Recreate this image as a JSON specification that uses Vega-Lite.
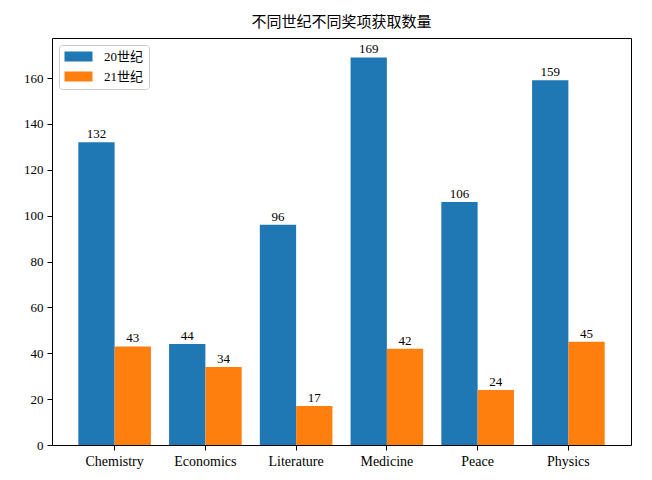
{
  "$schema": "https://vega.github.io/schema/vega-lite/v6.json",
  "width": 579,
  "height": 407,
  "autosize": {"type": "none"},
  "padding": {"left": 52, "top": 38, "right": 21, "bottom": 35},
  "background": "white",
  "config": {
    "font": "Liberation Serif, Noto Sans CJK SC",
    "view": {"stroke": "black", "strokeWidth": 1},
    "axis": {"grid": false, "domain": false, "tickColor": "black", "labelColor": "black", "labelFontSize": 13, "tickSize": 5, "labelPadding": 4, "labelFont": "Liberation Serif"}
  },
  "title": {"text": "不同世纪不同奖项获取数量", "fontSize": 15, "fontWeight": "normal", "offset": 8, "color": "black", "font": "Noto Sans CJK SC", "anchor": "middle"},
  "data": {
    "values": [
      {"award": "Chemistry", "century": "20世纪", "count": 132},
      {"award": "Chemistry", "century": "21世纪", "count": 43},
      {"award": "Economics", "century": "20世纪", "count": 44},
      {"award": "Economics", "century": "21世纪", "count": 34},
      {"award": "Literature", "century": "20世纪", "count": 96},
      {"award": "Literature", "century": "21世纪", "count": 17},
      {"award": "Medicine", "century": "20世纪", "count": 169},
      {"award": "Medicine", "century": "21世纪", "count": 42},
      {"award": "Peace", "century": "20世纪", "count": 106},
      {"award": "Peace", "century": "21世纪", "count": 24},
      {"award": "Physics", "century": "20世纪", "count": 159},
      {"award": "Physics", "century": "21世纪", "count": 45}
    ]
  },
  "encoding": {
    "x": {"field": "award", "type": "nominal", "sort": null, "scale": {"paddingInner": 0.2, "paddingOuter": 0.29}, "axis": {"title": null, "labelAngle": 0, "labelFontSize": 14}},
    "xOffset": {"field": "century", "type": "nominal", "sort": ["20世纪", "21世纪"], "scale": {"paddingInner": 0, "paddingOuter": 0}},
    "y": {"field": "count", "type": "quantitative", "scale": {"domain": [0, 177.45], "nice": false}, "axis": {"title": null, "values": [0, 20, 40, 60, 80, 100, 120, 140, 160]}}
  },
  "layer": [
    {
      "mark": {"type": "bar"},
      "encoding": {
        "color": {
          "field": "century", "type": "nominal", "sort": ["20世纪", "21世纪"],
          "scale": {"range": ["#1f77b4", "#ff7f0e"]},
          "legend": {
            "title": null, "orient": "top-left", "offset": 7,
            "fillColor": "white", "strokeColor": "#cccccc", "cornerRadius": 3, "padding": 5,
            "labelFontSize": 13, "labelColor": "black", "labelFont": "Liberation Serif, Noto Sans CJK SC",
            "symbolType": "M-2.8,-1L2.8,-1L2.8,1L-2.8,1Z", "symbolSize": 100, "symbolStrokeWidth": 0,
            "symbolOffset": 8, "labelOffset": 19, "rowPadding": 6
          }
        }
      }
    },
    {
      "mark": {"type": "text", "baseline": "bottom", "dy": -1, "fontSize": 13, "color": "black", "font": "Liberation Serif"},
      "encoding": {"text": {"field": "count", "type": "quantitative"}}
    }
  ]
}
